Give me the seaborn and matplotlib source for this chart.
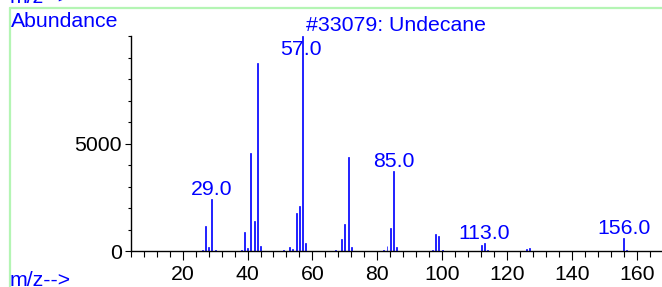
import numpy as np
import pandas as pd
import matplotlib
matplotlib.use('Agg')
import matplotlib.pyplot as plt
from matplotlib.ticker import MultipleLocator, FixedLocator
from matplotlib.lines import Line2D
import seaborn as sns

# mass spectrum of undecane (NIST #33079)
mz = [26, 27, 28, 29, 30, 38, 39, 40, 41, 42, 43, 44, 51, 53, 54, 55, 56, 57, 58,
      65, 67, 69, 70, 71, 72, 77, 82, 83, 84, 85, 86, 97, 98, 99, 100,
      112, 113, 114, 126, 127, 156, 157]
abundance = [40, 1180, 200, 2400, 50, 40, 900, 150, 4570, 1390, 8760, 230, 30, 200, 110, 1770, 2080, 9999, 360,
             20, 50, 545, 1240, 4390, 170, 20, 40, 220, 1070, 3735, 190, 50, 790, 680, 30,
             280, 360, 30, 80, 140, 590, 40]
labelled = [29, 57, 85, 113, 156]
title = '#33079: Undecane'

df = pd.DataFrame({'mz': mz, 'abundance': abundance})

BLUE = '#0000ff'
GREEN = '#b4f5b4'
FS = 15.3

sns.set_style('white')
plt.rcParams['font.family'] = ['Liberation Sans', 'DejaVu Sans']
plt.rcParams['font.size'] = FS

fig = plt.figure(figsize=(6.62, 2.87), dpi=100)
ax = fig.add_axes([0.1976, 0.1254, 0.8024, 0.7491])

sns.barplot(data=df, x='mz', y='abundance', native_scale=True, width=0.3,
            color=BLUE, saturation=1, edgecolor=BLUE, linewidth=0.5,
            errorbar=None, ax=ax)

ax.set_xlim(4, 167.8)
ax.set_ylim(0, 10000)
ax.set_xlabel('')
ax.set_ylabel('')

ax.xaxis.set_major_locator(FixedLocator(list(range(20, 161, 20))))
ax.xaxis.set_minor_locator(MultipleLocator(4))
ax.yaxis.set_major_locator(FixedLocator([0, 5000]))
ax.yaxis.set_minor_locator(MultipleLocator(1000))
ax.tick_params(axis='both', which='both', direction='out', color='black', width=0.8,
               labelsize=FS, labelcolor='black')
ax.tick_params(axis='x', which='major', length=6.5, pad=3.5, bottom=True)
ax.tick_params(axis='x', which='minor', length=4.5, bottom=True)
ax.tick_params(axis='y', which='major', length=4.5, pad=2, left=True)
ax.tick_params(axis='y', which='minor', length=2.5, left=True)

sns.despine(ax=ax)
for side in ['left', 'bottom']:
    ax.spines[side].set_color('black')
    ax.spines[side].set_linewidth(1.0)

# peak labels
for m in labelled:
    h = df.loc[df['mz'] == m, 'abundance'].iloc[0]
    if h > 8500:
        ax.annotate(f'{m:.1f}', xy=(m, 10000), xytext=(-1.5, -14), textcoords='offset points',
                    ha='center', va='baseline', color=BLUE, fontsize=FS)
    else:
        ax.annotate(f'{m:.1f}', xy=(m, h), xytext=(0, 3), textcoords='offset points',
                    ha='center', va='baseline', color=BLUE, fontsize=FS)

fig.text(11 / 662, 1 - 27.3 / 287, 'Abundance', color=BLUE, fontsize=FS, va='baseline', ha='left')
fig.text(396 / 662, 1 - 31 / 287, title, color=BLUE, fontsize=FS, va='baseline', ha='center')
fig.text(10 / 662, 1.3 / 287, 'm/z-->', color=BLUE, fontsize=FS, va='baseline', ha='left')
# tail of the panel above, cut off by the top edge
fig.text(10 / 662, 1 - 2.7 / 287, 'm/z-->', color=BLUE, fontsize=FS, va='baseline', ha='left')

# light green frame of the report panel
fig.add_artist(Line2D([10 / 662, 1], [1 - 8.3 / 287, 1 - 8.3 / 287], color=GREEN, lw=1.6,
                      transform=fig.transFigure))
fig.add_artist(Line2D([10 / 662, 10 / 662], [0, 1 - 8.3 / 287], color=GREEN, lw=1.6,
                      transform=fig.transFigure))

fig.savefig('out.png', dpi=100)
